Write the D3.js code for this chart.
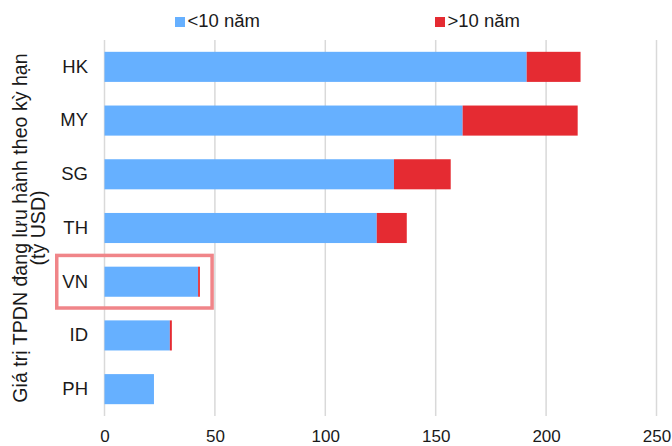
<!DOCTYPE html>
<html><head><meta charset="utf-8">
<script src="https://cdn.jsdelivr.net/npm/d3@7"></script>
<style>body{margin:0;background:#fff}svg{display:block}text{font-family:"Liberation Sans",Arial,sans-serif;fill:#1a1a1a}</style>
</head><body>
<script>
const categories = ["HK","MY","SG","TH","VN","ID","PH"];
const under10 = [191.2, 162.2, 131.1, 123.3, 42.4, 29.6, 22.4];
const over10 = [24.4, 52.1, 25.7, 13.6, 0.8, 0.9, 0];
const seriesNames = ["<10 năm", ">10 năm"];
const colors = ["#66b0ff", "#e52b32"];
const xTicks = [0, 50, 100, 150, 200, 250];
const highlight = "VN";
const yTitle = ["Giá trị TPDN đang lưu hành theo kỳ hạn", "(tỷ USD)"];

const W = 672, H = 446;
const FF = '"Liberation Sans",Arial,sans-serif';
const svg = d3.select("body").append("svg").attr("width", W).attr("height", H);
const m = {l:104.5, r:15.5, t:40, b:30};
const x = d3.scaleLinear().domain([0,250]).range([m.l, W - m.r]);
const y = d3.scaleBand().domain(categories).range([m.t, H - m.b]).paddingInner(0.44).paddingOuter(0.22);

// gridlines
svg.append("g").selectAll("line").data(xTicks).join("line")
  .attr("x1", d=>x(d)).attr("x2", d=>x(d)).attr("y1", m.t).attr("y2", H - m.b)
  .attr("stroke", "#d9d9d9").attr("stroke-width", 1.5);

// bars
const data = categories.map((c,i)=>({c, a:under10[i], b:over10[i]}));
const g = svg.append("g");
g.selectAll("rect.a").data(data).join("rect").attr("class","a")
  .attr("x", x(0)).attr("y", d=>y(d.c)).attr("height", y.bandwidth())
  .attr("width", d=>x(d.a)-x(0)).attr("fill", colors[0]);
g.selectAll("rect.b").data(data.filter(d=>d.b>0)).join("rect").attr("class","b")
  .attr("x", d=>x(d.a)).attr("y", d=>y(d.c)).attr("height", y.bandwidth())
  .attr("width", d=>x(d.a+d.b)-x(d.a)).attr("fill", colors[1]);

// x axis labels
const xa = d3.axisBottom(x).tickValues(xTicks).tickSize(0).tickPadding(13.8);
const xg = svg.append("g").attr("transform", `translate(0,${H - m.b})`).call(xa);
xg.select(".domain").remove();
xg.selectAll("text").style("font-size","17px").style("font-family",FF).attr("fill","#1a1a1a");

// y axis labels
const ya = d3.axisLeft(y).tickSize(0).tickPadding(16.5);
const yg = svg.append("g").attr("transform", `translate(${m.l},0)`).call(ya);
yg.select(".domain").remove();
yg.selectAll("text").style("font-size","18.5px").style("font-family",FF).attr("fill","#1a1a1a");

// highlight
const hy = y(highlight);
svg.append("rect").attr("x", 56.75).attr("y", hy - 11.25)
  .attr("width", x(under10[4]+over10[4]) + 12.2 - 56.75).attr("height", y.bandwidth() + 22.5)
  .attr("fill","none").attr("stroke","#f08589").attr("stroke-width",3.5);

// y title
const cy = (m.t + H - m.b)/2;
const yt = svg.append("text").attr("transform", `translate(27,${cy}) rotate(-90)`)
  .attr("text-anchor","middle").style("font-size","19.6px");
yt.append("tspan").attr("x",0).attr("dy",0).text(yTitle[0]);
yt.append("tspan").attr("x",0).attr("dy",18).text(yTitle[1]);

// legend
const lx = [175, 435];
const lg = svg.append("g").selectAll("g").data(seriesNames).join("g")
  .attr("transform",(d,i)=>`translate(${lx[i]},17)`);
lg.append("rect").attr("width",10).attr("height",10).attr("fill",(d,i)=>colors[i]);
lg.append("text").attr("x",12.5).attr("y",10.3).style("font-size","18.5px").text(d=>d);
</script>
</body></html>
